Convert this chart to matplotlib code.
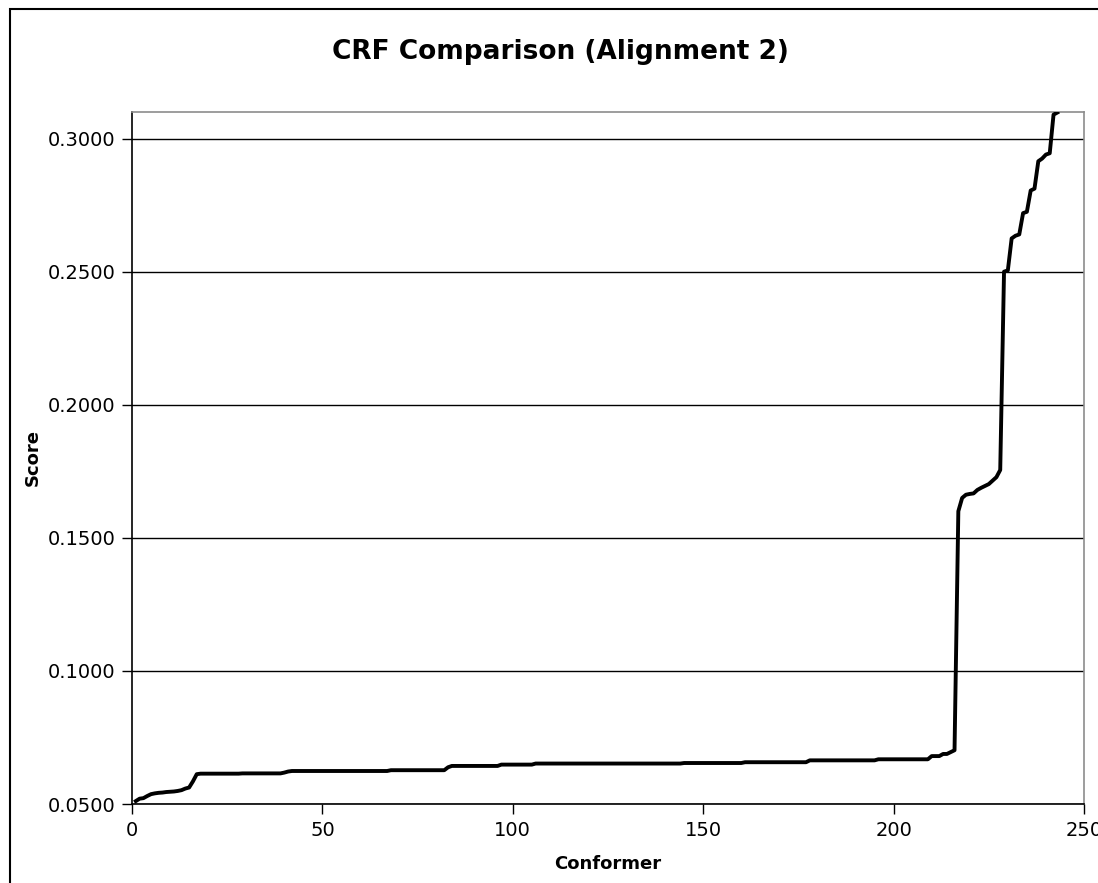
import matplotlib
matplotlib.use("Agg")
import matplotlib.pyplot as plt
from matplotlib.patches import Rectangle
from matplotlib.ticker import FormatStrFormatter, MultipleLocator

# CRF scores per conformer, sorted ascending (conformers 1..243)
scores = [
    0.0511, 0.0520, 0.0522, 0.0530, 0.0537, 0.0540, 0.0542, 0.0543, 0.0545, 0.0546,
    0.0547, 0.0549, 0.0552, 0.0558, 0.0562, 0.0585, 0.0612, 0.0614, 0.0614, 0.0614,
    0.0614, 0.0614, 0.0614, 0.0614, 0.0614, 0.0614, 0.0614, 0.0614, 0.0615, 0.0615,
    0.0615, 0.0615, 0.0615, 0.0615, 0.0615, 0.0615, 0.0615, 0.0615, 0.0615, 0.0618,
    0.0622, 0.0624, 0.0624, 0.0624, 0.0624, 0.0624, 0.0624, 0.0624, 0.0624, 0.0624,
    0.0624, 0.0624, 0.0624, 0.0624, 0.0624, 0.0624, 0.0624, 0.0624, 0.0624, 0.0624,
    0.0624, 0.0624, 0.0624, 0.0624, 0.0624, 0.0624, 0.0624, 0.0627, 0.0627, 0.0627,
    0.0627, 0.0627, 0.0627, 0.0627, 0.0627, 0.0627, 0.0627, 0.0627, 0.0627, 0.0627,
    0.0627, 0.0627, 0.0638, 0.0643, 0.0643, 0.0643, 0.0643, 0.0643, 0.0643, 0.0643,
    0.0643, 0.0643, 0.0643, 0.0643, 0.0643, 0.0643, 0.0648, 0.0648, 0.0648, 0.0648,
    0.0648, 0.0648, 0.0648, 0.0648, 0.0648, 0.0652, 0.0652, 0.0652, 0.0652, 0.0652,
    0.0652, 0.0652, 0.0652, 0.0652, 0.0652, 0.0652, 0.0652, 0.0652, 0.0652, 0.0652,
    0.0652, 0.0652, 0.0652, 0.0652, 0.0652, 0.0652, 0.0652, 0.0652, 0.0652, 0.0652,
    0.0652, 0.0652, 0.0652, 0.0652, 0.0652, 0.0652, 0.0652, 0.0652, 0.0652, 0.0652,
    0.0652, 0.0652, 0.0652, 0.0652, 0.0654, 0.0654, 0.0654, 0.0654, 0.0654, 0.0654,
    0.0654, 0.0654, 0.0654, 0.0654, 0.0654, 0.0654, 0.0654, 0.0654, 0.0654, 0.0654,
    0.0657, 0.0657, 0.0657, 0.0657, 0.0657, 0.0657, 0.0657, 0.0657, 0.0657, 0.0657,
    0.0657, 0.0657, 0.0657, 0.0657, 0.0657, 0.0657, 0.0657, 0.0664, 0.0664, 0.0664,
    0.0664, 0.0664, 0.0664, 0.0664, 0.0664, 0.0664, 0.0664, 0.0664, 0.0664, 0.0664,
    0.0664, 0.0664, 0.0664, 0.0664, 0.0664, 0.0668, 0.0668, 0.0668, 0.0668, 0.0668,
    0.0668, 0.0668, 0.0668, 0.0668, 0.0668, 0.0668, 0.0668, 0.0668, 0.0668, 0.0680,
    0.0680, 0.0680, 0.0688, 0.0688, 0.0695, 0.0702, 0.1600, 0.1650, 0.1662, 0.1665,
    0.1667, 0.1680, 0.1688, 0.1695, 0.1702, 0.1715, 0.1728, 0.1755, 0.2500, 0.2505,
    0.2625, 0.2635, 0.2640, 0.2720, 0.2725, 0.2805, 0.2812, 0.2915, 0.2925, 0.2940,
    0.2945, 0.3090, 0.3098,
]
conformers = list(range(1, len(scores) + 1))

title = "CRF Comparison (Alignment 2)"
x_label = "Conformer"
y_label = "Score"

W, H, DPI = 1098, 883, 100
fig = plt.figure(figsize=(W / DPI, H / DPI), dpi=DPI)
plt.rcParams["font.family"] = ["DejaVu Sans"]

# Chart frame (extends beyond the right and bottom of the canvas)
fig.patches.append(Rectangle((10 / W, -0.05), 1.2, 1 - 9 / H + 0.05,
                             transform=fig.transFigure, fill=False,
                             edgecolor="black", linewidth=1.5, clip_on=False))

left, right, top, bottom = 132, 1084, 112, 804
ax = fig.add_axes([left / W, 1 - bottom / H, (right - left) / W, (bottom - top) / H])

ax.plot(conformers, scores, color="black", linewidth=2.8, solid_joinstyle="round",
        zorder=3)

ax.set_xlim(0, 250)
ax.set_ylim(0.05, 0.31)
ax.xaxis.set_major_locator(MultipleLocator(50))
ax.yaxis.set_major_locator(MultipleLocator(0.05))
ax.yaxis.set_major_formatter(FormatStrFormatter("%.4f"))
ax.grid(axis="y", color="black", linewidth=1.0)
ax.set_axisbelow(True)

for side in ("top", "right"):
    ax.spines[side].set_color("#8c8c8c")
    ax.spines[side].set_linewidth(1.2)
for side in ("left", "bottom"):
    ax.spines[side].set_color("black")
    ax.spines[side].set_linewidth(1.2)

ax.tick_params(axis="both", direction="out", length=7, width=1.0, labelsize=14,
               color="black", pad=5)

ax.set_xlabel(x_label, fontsize=13, fontweight="bold")
ax.xaxis.set_label_coords((608 - left) / (right - left), -(864 - bottom) / (bottom - top))
ax.set_ylabel(y_label, fontsize=13, fontweight="bold")
ax.yaxis.set_label_coords(-(left - 33) / (right - left), 0.5)
ax.yaxis.label.set_va("center")
ax.xaxis.label.set_va("center")

fig.text(560 / W, 1 - 52 / H, title, ha="center", va="center",
         fontsize=19, fontweight="bold")

fig.savefig("out.png", dpi=DPI)
